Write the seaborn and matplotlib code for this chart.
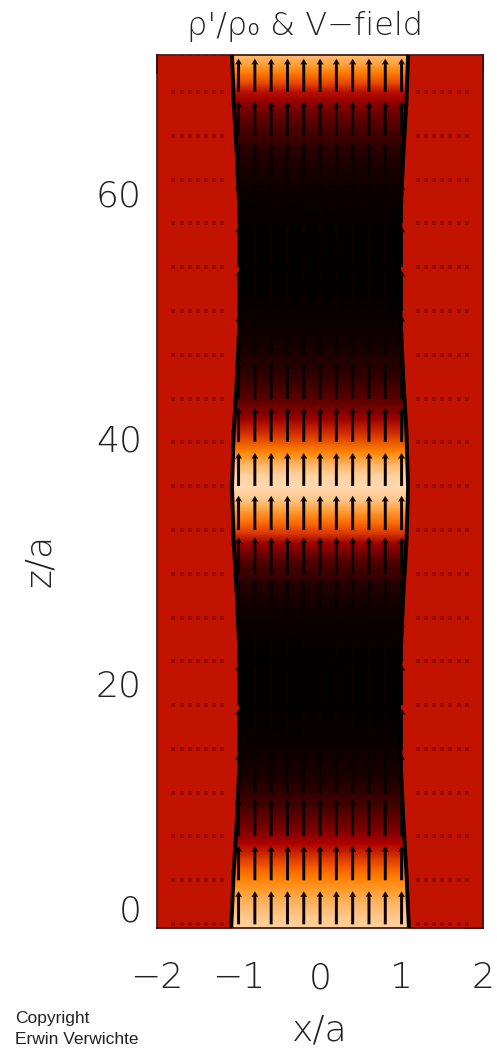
import numpy as np
import pandas as pd
import seaborn as sns
import matplotlib.pyplot as plt
from matplotlib.colors import LinearSegmentedColormap
from matplotlib.ticker import MultipleLocator

sns.set_theme(style="white")
plt.rcParams['font.family'] = ['DejaVu Sans']

# density perturbation along the tube axis (fraction of colour table, 0 = black, 1 = white)
z_axis = [0.0, 1.0, 2.3, 3.3, 4.2, 5.0, 5.8, 6.9, 8.0, 10.0, 12.0, 15.0, 18.0, 22.0,
          26.0, 28.0, 30.0, 31.4, 32.2, 33.0, 34.1, 35.0, 36.0, 37.0, 37.9, 38.9,
          40.3, 41.6, 43.0, 45.0, 48.0, 52.0, 56.0, 60.0, 63.0, 65.0, 66.5, 67.5,
          68.3, 69.0, 69.8, 70.5, 71.3]
rho_axis = [0.90, 0.88, 0.83, 0.78, 0.73, 0.66, 0.58, 0.47, 0.34, 0.18, 0.08, 0.03, 0.01, 0.01,
            0.04, 0.10, 0.22, 0.42, 0.58, 0.68, 0.80, 0.88, 0.92, 0.90, 0.84, 0.74,
            0.58, 0.42, 0.26, 0.13, 0.05, 0.01, 0.01, 0.03, 0.09, 0.18, 0.29, 0.40,
            0.50, 0.62, 0.72, 0.80, 0.86]
rho_outside = 0.5

# tube boundary (half width in x/a)
z_edge = [0.0, 4.5, 9.0, 13.5, 18.0, 22.5, 27.0, 31.5, 36.0, 40.5, 45.0, 49.5, 54.0,
          58.5, 63.0, 67.5, 71.3]
w_edge = [1.09, 1.06, 1.02, 0.99, 0.97, 0.99, 1.02, 1.06, 1.08, 1.06, 1.02, 0.99, 0.97,
          0.99, 1.02, 1.06, 1.08]

# velocity field grid
z_grid = [0.3, 3.9, 7.5, 11.0, 14.6, 18.2, 21.8, 25.3, 28.9, 32.5, 36.1, 39.7, 43.2,
          46.8, 50.4, 54.0, 57.6, 61.1, 64.7, 68.3]
x_in = [-1.0, -0.8, -0.6, -0.4, -0.2, 0.0, 0.2, 0.4, 0.6, 0.8, 1.0]
vz_in = [2.7, 2.8, 3.0, 3.2, 3.3, 3.3, 3.3, 3.2, 3.0, 2.8, 2.7, 2.8, 3.0,
         3.2, 3.3, 3.3, 3.2, 3.0, 2.8, 2.7]
x_out = [-1.8, -1.7, -1.6, -1.5, -1.4, -1.3, -1.2, 1.2, 1.3, 1.4, 1.5, 1.6, 1.7, 1.8]

zmax = 71.3

# IDL "red temperature" style colour table
cmap = LinearSegmentedColormap.from_list("redtemp", [
    (0.0, (0, 0, 0)),
    (0.47, (0.68, 0, 0)),
    (0.69, (1, 0.41, 0)),
    (0.745, (1, 0.52, 0)),
    (1.0, (1, 1, 1)),
])
out_col = (0.76, 0.07, 0.0)

fig = plt.figure(figsize=(4.97, 10.53), dpi=100)
ax = fig.add_axes([0.316, 0.1187, 0.656, 0.829])

# interior density
xx = [-1.15, 1.15]
C = np.column_stack([rho_axis, rho_axis])
ax.pcolormesh(xx, z_axis, C, shading='gouraud', cmap=cmap, vmin=0, vmax=1, zorder=1)

# exterior plasma
w_neg = [-w for w in w_edge]
ax.fill_betweenx(z_edge, -2, w_neg, color=out_col, lw=0, zorder=2)
ax.fill_betweenx(z_edge, w_edge, 2, color=out_col, lw=0, zorder=2)

# boundary lines
edges = pd.DataFrame({'z': z_edge + z_edge,
                      'x': w_neg + w_edge,
                      'side': ['left'] * len(z_edge) + ['right'] * len(z_edge)})
sns.lineplot(data=edges, x='x', y='z', units='side', estimator=None, sort=False,
             color='black', lw=2.8, ax=ax, zorder=4, legend=False)

# velocity arrows inside the tube
X, Z = np.meshgrid(x_in, z_grid)
V = np.tile(np.array(vz_in)[:, None], (1, len(x_in)))
ax.quiver(X, Z, np.zeros_like(V), V, angles='xy', scale_units='xy', scale=1,
          pivot='tail', color='#0a0000', width=0.009, headwidth=2.4, headlength=2.0,
          headaxislength=1.8, zorder=5)

# small exterior velocity marks
Xo, Zo = np.meshgrid(x_out, z_grid)
ax.scatter(Xo.ravel(), Zo.ravel(), s=5, marker='s', color='#5a0000', alpha=0.35,
           lw=0, zorder=3)

ax.set_xlabel('')
ax.set_ylabel('')
ax.set_xlim(-2, 2)
ax.set_ylim(0, zmax)
ax.set_xticks([-2, -1, 0, 1, 2])
ax.set_xticklabels(['\u22122', '\u22121', '0', '1', '2'])
ax.set_yticks([0, 20, 40, 60])
ax.xaxis.set_minor_locator(MultipleLocator(0.1))
ax.yaxis.set_minor_locator(MultipleLocator(5))
ax.tick_params(which='major', direction='in', length=14, width=1.2, color='black',
               top=True, right=True, labelsize=26)
ax.tick_params(which='minor', direction='in', length=7, width=1.0, color='black',
               top=True, right=True)
ax.tick_params(axis='x', which='major', pad=24)
ax.tick_params(axis='y', which='major', pad=11)
for lab in ax.get_xticklabels() + ax.get_yticklabels():
    lab.set_fontweight('light')
    lab.set_color('#222222')
ax.get_yticklabels()[0].set_va('bottom')
for s in ax.spines.values():
    s.set_color('#3a0808')
    s.set_linewidth(1.2)

fig.text(305 / 497, 1 - 27 / 1053, "\u03c1'/\u03c1\u2080 & V\u2212field", ha='center',
         va='center', fontsize=23, color='#222222', fontweight='light')
fig.text(320 / 497, 1 - 1030 / 1053, 'x/a', ha='center', va='center', fontsize=26,
         color='#222222', fontweight='light')
fig.text(40 / 497, 1 - 560 / 1053, 'z/a', ha='center', va='center', fontsize=26,
         rotation=90, color='#222222', fontweight='light')
fig.text(15 / 497, 1 - 1018 / 1053, 'Copyright', ha='left', va='center', fontsize=12.5,
         family='Liberation Sans', color='#222222')
fig.text(15 / 497, 1 - 1040 / 1053, 'Erwin Verwichte', ha='left', va='center',
         fontsize=12.5, family='Liberation Sans', color='#222222')

fig.savefig('out.png', dpi=100)
